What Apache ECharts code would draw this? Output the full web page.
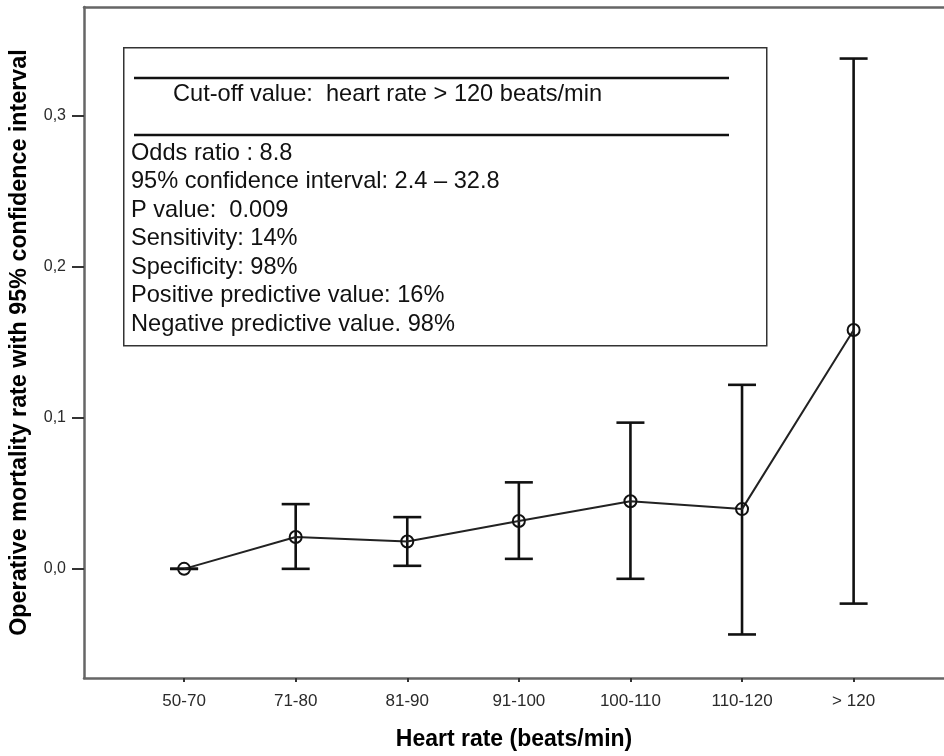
<!DOCTYPE html>
<html><head><meta charset="utf-8">
<script src="https://cdn.jsdelivr.net/npm/echarts@6/dist/echarts.min.js"></script>
<style>html,body{margin:0;padding:0;background:#fff}#c{width:944px;height:756px}</style>
</head><body><div id="c"></div>
<script>
const categories = ['50-70', '71-80', '81-90', '91-100', '100-110', '110-120', '> 120'];
const meanRate = [0.0, 0.0211, 0.0181, 0.0316, 0.0447, 0.0395, 0.158];
const ciLower = [0.0, 0.0, 0.002, 0.0066, -0.0066, -0.0434, -0.023];
const ciUpper = [0.0, 0.0428, 0.0342, 0.0572, 0.0967, 0.1217, 0.3375];
const yTicks = [0, 0.1, 0.2, 0.3];
const boxTitle = 'Cut-off value:  heart rate > 120 beats/min';
const boxLines = [
  'Odds ratio : 8.8',
  '95% confidence interval: 2.4 \u2013 32.8',
  'P value:  0.009',
  'Sensitivity: 14%',
  'Specificity: 98%',
  'Positive predictive value: 16%',
  'Negative predictive value. 98%'
];

const FONT = "'Liberation Sans', Arial, sans-serif";
const idx = categories.map((c, i) => i);
const frameColor = '#666';

const chart = echarts.init(document.getElementById('c'), null, {renderer: 'canvas'});
const option = {
  animation: false,
  backgroundColor: '#fff',
  textStyle: {fontFamily: FONT},
  grid: {left: 83, top: 7, right: 0, bottom: 73},
  xAxis: [{
    type: 'value', min: -0.897, max: 6.81,
    axisLine: {show: true, onZero: false, lineStyle: {color: frameColor, width: 2.5}},
    axisTick: {show: true, customValues: idx, length: 4, lineStyle: {color: '#333', width: 2}},
    axisLabel: {customValues: idx, formatter: v => categories[Math.round(v)], fontSize: 17, color: '#2a2a2a', margin: 15, fontFamily: FONT},
    splitLine: {show: false},
    name: 'Heart rate (beats/min)', nameLocation: 'middle', nameGap: 50,
    nameTextStyle: {fontSize: 23, fontWeight: 'bold', color: '#000', fontFamily: FONT}
  }, {
    type: 'value', position: 'top', min: -0.897, max: 6.81,
    axisLine: {show: true, onZero: false, lineStyle: {color: frameColor, width: 2.5}},
    axisTick: {show: false}, axisLabel: {show: false}, splitLine: {show: false}
  }],
  yAxis: {
    type: 'value', min: -0.0722, max: 0.3716,
    axisLine: {show: true, onZero: false, lineStyle: {color: frameColor, width: 2.5}},
    axisTick: {show: true, customValues: yTicks, length: 12, lineStyle: {color: '#333', width: 2}},
    axisLabel: {customValues: yTicks, formatter: v => v.toFixed(1).replace('.', ','), fontSize: 16, color: '#2a2a2a', margin: 18, fontFamily: FONT},
    splitLine: {show: false},
    name: 'Operative mortality rate with 95% confidence interval', nameLocation: 'middle', nameGap: 53,
    nameTextStyle: {fontSize: 23.3, fontWeight: 'bold', color: '#000', fontFamily: FONT}
  },
  series: [{
    type: 'custom',
    xAxisIndex: 0,
    data: idx.map(i => [i, ciLower[i], ciUpper[i]]),
    encode: {x: 0, y: [1, 2]},
    renderItem: function (params, api) {
      const x = api.value(0);
      const pLo = api.coord([x, api.value(1)]);
      const pHi = api.coord([x, api.value(2)]);
      const hw = 14;
      const st = {stroke: '#111', lineWidth: 2.6};
      return {type: 'group', children: [
        {type: 'line', shape: {x1: pLo[0], y1: pLo[1], x2: pHi[0], y2: pHi[1]}, style: st},
        {type: 'line', shape: {x1: pLo[0] - hw, y1: pLo[1], x2: pLo[0] + hw, y2: pLo[1]}, style: st},
        {type: 'line', shape: {x1: pHi[0] - hw, y1: pHi[1], x2: pHi[0] + hw, y2: pHi[1]}, style: st}
      ]};
    },
    z: 2
  }, {
    type: 'line',
    xAxisIndex: 0,
    data: idx.map(i => [i, meanRate[i]]),
    symbol: 'circle', symbolSize: 12,
    itemStyle: {color: 'rgba(0,0,0,0)', borderColor: '#111', borderWidth: 2},
    lineStyle: {color: '#222', width: 2},
    z: 3
  }],
  graphic: [
    {type: 'rect', left: 123, top: 47, shape: {width: 643, height: 298}, style: {fill: '#fff', stroke: '#333', lineWidth: 1.5}, z: 10},
    {type: 'line', shape: {x1: 134, y1: 78, x2: 729, y2: 78}, style: {stroke: '#111', lineWidth: 2.5}, z: 11},
    {type: 'line', shape: {x1: 134, y1: 135, x2: 729, y2: 135}, style: {stroke: '#111', lineWidth: 2.5}, z: 11},
    {type: 'text', left: 173, top: 82, style: {text: boxTitle, font: '23.6px ' + FONT, fill: '#111'}, z: 11},
    {type: 'text', left: 131, top: 139, style: {text: boxLines.join('\n'), font: '23.6px ' + FONT, lineHeight: 28.5, fill: '#111'}, z: 11}
  ]
};
chart.setOption(option);
</script>
</body></html>
